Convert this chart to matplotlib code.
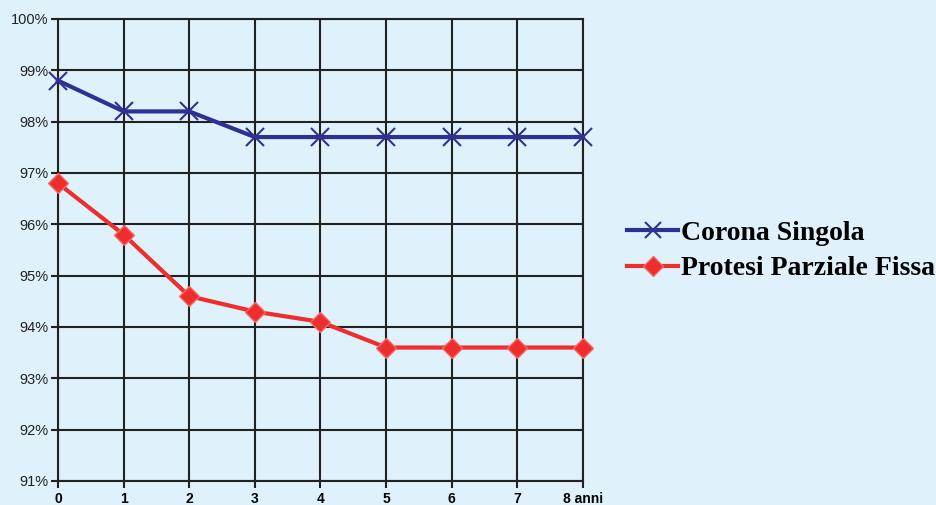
import matplotlib.pyplot as plt
from matplotlib.lines import Line2D

# Dati
anni = [0, 1, 2, 3, 4, 5, 6, 7, 8]
etichette_x = ['0', '1', '2', '3', '4', '5', '6', '7', '8 anni']
corona_singola = [98.8, 98.2, 98.2, 97.7, 97.7, 97.7, 97.7, 97.7, 97.7]
protesi_parziale = [96.8, 95.8, 94.6, 94.3, 94.1, 93.6, 93.6, 93.6, 93.6]
etichette_y = ['91%', '92%', '93%', '94%', '95%', '96%', '97%', '98%', '99%', '100%']

sfondo = '#dff1fb'
blu = '#2e3192'
rosso = '#ee2d2d'

fig = plt.figure(figsize=(9.37, 5.05), dpi=100, facecolor=sfondo)
ax = fig.add_axes([58 / 937, 24 / 505, 525 / 937, 462 / 505])
ax.set_facecolor(sfondo)

ax.plot(anni, corona_singola, color=blu, lw=3, marker='x', ms=13,
        mew=1.5, clip_on=False, zorder=5)
ax.plot(anni, protesi_parziale, color=rosso, lw=3, marker='D', ms=10,
        mfc=rosso, mec='#f46a6a', mew=1, clip_on=False, zorder=6)

ax.set_xlim(0, 8)
ax.set_ylim(91, 100)
ax.set_xticks(anni)
ax.set_xticklabels(etichette_x, fontfamily='Liberation Sans',
                   fontweight='bold', fontsize=10)
ax.set_yticks(range(91, 101))
ax.set_yticklabels(etichette_y, fontfamily='Liberation Sans', fontsize=10.5,
                   color='#222222')
ax.tick_params(axis='both', length=5, width=1.5, color='#222222', pad=2)
ax.tick_params(axis='x', pad=3)

ax.grid(True, color='#222222', lw=1.5)
ax.set_axisbelow(True)
for lato in ['left', 'bottom', 'top', 'right']:
    ax.spines[lato].set_color('#222222')
    ax.spines[lato].set_linewidth(1.5)

handles = [
    Line2D([], [], color=blu, lw=3, marker='x', ms=11, mew=1.5),
    Line2D([], [], color=rosso, lw=3, marker='D', ms=10, mfc=rosso,
           mec='#f46a6a', mew=1),
]
fig.legend(handles, ['Corona Singola', 'Protesi Parziale Fissa'],
           loc='center left', bbox_to_anchor=(627 / 937, 1 - 251 / 505),
           frameon=False, handlelength=1.85, handletextpad=0.1,
           labelspacing=0.35, borderpad=0, borderaxespad=0,
           prop={'family': 'Liberation Serif', 'weight': 'bold', 'size': 20})

fig.savefig('out.png', dpi=100, facecolor=sfondo)
